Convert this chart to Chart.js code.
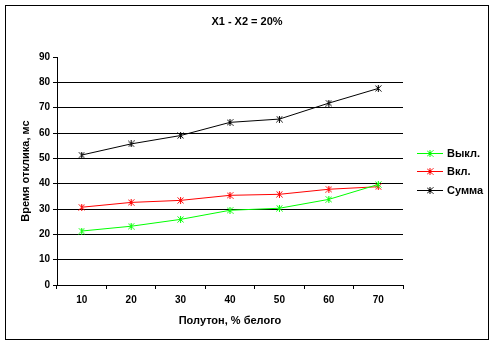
<!DOCTYPE html>
<html>
<head>
<meta charset="utf-8">
<script src="https://cdn.jsdelivr.net/npm/chart.js@4/dist/chart.umd.min.js"></script>
<style>
  html, body { margin: 0; padding: 0; background: #fff; }
  canvas { display: block; }
</style>
</head>
<body>
<canvas id="c" width="494" height="345"></canvas>
<script>
// Halftone level, % white
const categories = ['10', '20', '30', '40', '50', '60', '70'];
// Response times, ms
const offValues = [21.3, 23.2, 25.9, 29.5, 30.3, 33.8, 39.7];
const onValues  = [30.7, 32.6, 33.4, 35.4, 35.8, 37.8, 38.8];
const sumValues = [51.3, 55.7, 59.0, 64.2, 65.5, 71.8, 77.6];
const seriesNames = ['Выкл.', 'Вкл.', 'Сумма'];
const yTicks = [0, 10, 20, 30, 40, 50, 60, 70, 80, 90];

const FONT = '"Liberation Sans", Arial, sans-serif';

// Star-like marker: an "x" with a vertical stroke through it
function starMarker(color) {
  const s = 7;
  const cv = document.createElement('canvas');
  cv.width = s; cv.height = s;
  const g = cv.getContext('2d');
  g.strokeStyle = color;
  g.lineWidth = 1;
  g.beginPath();
  g.moveTo(0.5, 0.5); g.lineTo(6.5, 6.5);
  g.moveTo(6.5, 0.5); g.lineTo(0.5, 6.5);
  g.moveTo(3.5, 0); g.lineTo(3.5, 7);
  g.stroke();
  return cv;
}

function series(label, data, color) {
  const m = starMarker(color);
  return {
    label, data,
    yAxisID: 'y',
    borderColor: color,
    backgroundColor: color,
    borderWidth: 1,
    pointStyle: m,
    pointRadius: 3.5,
    pointHoverRadius: 3.5,
    tension: 0,
    _marker: m
  };
}

// Outer frame around the whole chart
const framePlugin = {
  id: 'frame',
  afterDraw(chart) {
    const ctx = chart.ctx;
    ctx.save();
    ctx.strokeStyle = '#000';
    ctx.lineWidth = 1;
    ctx.strokeRect(5.5, 5.5, 483, 334);
    ctx.restore();
  }
};

// Legend on the right: line sample with marker, then the series name
const sideLegend = {
  id: 'sideLegend',
  afterDraw(chart) {
    const ctx = chart.ctx;
    const area = chart.chartArea;
    const rows = chart.data.datasets.length;
    const rowH = 18.5;
    const y0 = (area.top + area.bottom) / 2 - rowH * (rows - 1) / 2;
    ctx.save();
    ctx.font = 'bold 11px ' + FONT;
    ctx.textBaseline = 'middle';
    ctx.textAlign = 'left';
    chart.data.datasets.forEach((ds, i) => {
      const y = Math.round(y0 + i * rowH) + 0.5;
      ctx.strokeStyle = ds.borderColor;
      ctx.lineWidth = 1;
      ctx.beginPath();
      ctx.moveTo(417, y); ctx.lineTo(443, y);
      ctx.stroke();
      ctx.drawImage(ds._marker, 430 - 3.5, y - 3.5);
      ctx.fillStyle = '#000';
      ctx.fillText(ds.label, 447, y);
    });
    ctx.restore();
  }
};

new Chart(document.getElementById('c'), {
  type: 'line',
  data: {
    labels: categories,
    datasets: [
      series(seriesNames[0], offValues, '#00ff00'),
      series(seriesNames[1], onValues, '#ff0000'),
      series(seriesNames[2], sumValues, '#000000')
    ]
  },
  options: {
    responsive: false,
    devicePixelRatio: 1,
    animation: false,
    layout: { padding: 0 },
    plugins: {
      legend: { display: false },
      tooltip: { enabled: false },
      title: {
        display: true,
        text: 'X1 - X2 = 20%',
        color: '#000',
        font: { family: FONT, size: 11, weight: 'bold' },
        padding: { top: 15, bottom: 28.8 }
      }
    },
    scales: {
      x: {
        type: 'category',
        offset: true,
        afterFit(s) { s.height = 60; },
        grid: {
          offset: true,
          drawOnChartArea: false,
          drawTicks: true,
          tickLength: 4,
          tickColor: '#000'
        },
        border: { display: true, color: '#000', width: 1 },
        ticks: {
          color: '#000',
          padding: 5,
          maxRotation: 0,
          font: { family: FONT, size: 10, weight: 'bold' }
        },
        title: {
          display: true,
          text: 'Полутон, % белого',
          color: '#000',
          font: { family: FONT, size: 11, weight: 'bold' },
          padding: { top: 0, bottom: 17.4 }
        }
      },
      y: {
        position: 'left',
        min: 0,
        max: 90,
        afterFit(s) { s.width = 57; },
        afterBuildTicks(s) { s.ticks = yTicks.map(v => ({ value: v })); },
        grid: {
          color: c => (c.tick && c.tick.value === 90) ? 'rgba(0,0,0,0)' : '#000',
          tickColor: '#000',
          tickLength: 4,
          lineWidth: 1
        },
        border: { display: true, color: '#000', width: 1 },
        ticks: {
          color: '#000',
          padding: 3,
          font: { family: FONT, size: 10, weight: 'bold' }
        },
        title: {
          display: true,
          text: 'Время отклика, мс',
          color: '#000',
          font: { family: FONT, size: 11, weight: 'bold' },
          padding: { top: 19.4, bottom: 0 }
        }
      },
      // Empty right-hand band that holds the legend
      legendBand: {
        type: 'linear',
        position: 'right',
        min: 0,
        max: 90,
        afterFit(s) { s.width = 91; },
        grid: { display: false },
        border: { display: false },
        ticks: { display: false }
      }
    }
  },
  plugins: [framePlugin, sideLegend]
});
</script>
</body>
</html>
